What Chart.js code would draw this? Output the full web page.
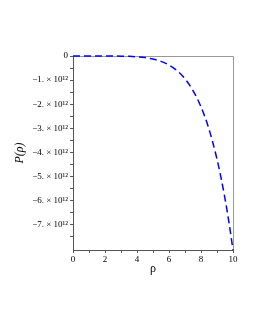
<!DOCTYPE html>
<html><head><meta charset="utf-8">
<script src="https://cdn.jsdelivr.net/npm/chart.js@4/dist/chart.umd.min.js"></script>
<style>html,body{margin:0;padding:0;background:#fff;}canvas{display:block;}</style>
</head><body>
<canvas id="c" width="255" height="330"></canvas>
<script>
const rho = [0, 1, 2, 2.5, 3, 3.5, 4, 4.5, 5, 5.5, 6, 6.5, 7, 7.5, 8, 8.5, 9, 9.25, 9.5, 9.75, 10];
const pValues = [0, 0, -0.0005e12, -0.002e12, -0.0059e12, -0.0148e12, -0.033e12, -0.067e12, -0.126e12, -0.223e12, -0.375e12, -0.606e12, -0.946e12, -1.431e12, -2.108e12, -3.032e12, -4.273e12, -5.038e12, -5.91e12, -6.904e12, -8.04e12];
const yTickValues = [0, -0.5e12, -1e12, -1.5e12, -2e12, -2.5e12, -3e12, -3.5e12, -4e12, -4.5e12, -5e12, -5.5e12, -6e12, -6.5e12, -7e12, -7.5e12];
const yTickLabels = ['0', '', '\u22121. \u00d7 10\u00b9\u00b2', '', '\u22122. \u00d7 10\u00b9\u00b2', '', '\u22123. \u00d7 10\u00b9\u00b2', '', '\u22124. \u00d7 10\u00b9\u00b2', '', '\u22125. \u00d7 10\u00b9\u00b2', '', '\u22126. \u00d7 10\u00b9\u00b2', '', '\u22127. \u00d7 10\u00b9\u00b2', ''];
const xTickValues = [0,1,2,3,4,5,6,7,8,9,10];
const xTickLabels = ['0','','2','','4','','6','','8','','10'];

const frame = {
  id: 'frame',
  beforeDatasetsDraw(chart) {
    const a = chart.chartArea, ctx = chart.ctx;
    ctx.save();
    ctx.strokeStyle = '#999';
    ctx.lineWidth = 1;
    ctx.beginPath();
    ctx.moveTo(a.left, a.top + 0.5); ctx.lineTo(a.right + 0.5, a.top + 0.5); ctx.lineTo(a.right + 0.5, a.bottom);
    ctx.stroke();
    ctx.restore();
  }
};

const font = {family: '"Liberation Serif", "Times New Roman", serif', size: 9};
new Chart(document.getElementById('c'), {
  type: 'line',
  data: { datasets: [{
    data: rho.map((r, i) => ({x: r, y: pValues[i]})),
    borderColor: '#0000ff', borderWidth: 1.5, borderDash: [7, 4],
    pointRadius: 0, tension: 0.4, cubicInterpolationMode: 'monotone', fill: false, clip: false
  }]},
  options: {
    responsive: false, animation: false,
    layout: { padding: { left: 13, top: 56, right: 22, bottom: 50 } },
    plugins: { legend: {display: false}, tooltip: {enabled: false} },
    scales: {
      x: {
        type: 'linear', min: 0, max: 10,
        afterBuildTicks: s => { s.ticks = xTickValues.map(v => ({value: v})); },
        afterFit: s => { s.height = 30; },
        ticks: { font, color: '#000', padding: 1, maxRotation: 0, autoSkip: false,
          callback: (v, i) => xTickLabels[i] },
        grid: { drawOnChartArea: false, tickLength: 3, color: '#555' },
        border: { color: '#555', width: 1 },
        title: { display: true, text: '\u03c1', font: {family: font.family, size: 12}, color: '#000', padding: {top: 2} }
      },
      y: {
        type: 'linear', min: -8.04e12, max: 0,
        afterBuildTicks: s => { s.ticks = yTickValues.map(v => ({value: v})); },
        afterFit: s => { s.width = 60; },
        ticks: { font, color: '#000', padding: 2, autoSkip: false,
          callback: (v, i) => yTickLabels[i] },
        grid: { drawOnChartArea: false, tickLength: 3, color: '#555' },
        border: { color: '#555', width: 1 },
        title: { display: true, text: 'P(\u03c1)', font: {family: font.family, size: 12, style: 'italic'}, color: '#000', padding: {bottom: 0, top: 0} }
      }
    }
  },
  plugins: [frame]
});
</script>
</body></html>
